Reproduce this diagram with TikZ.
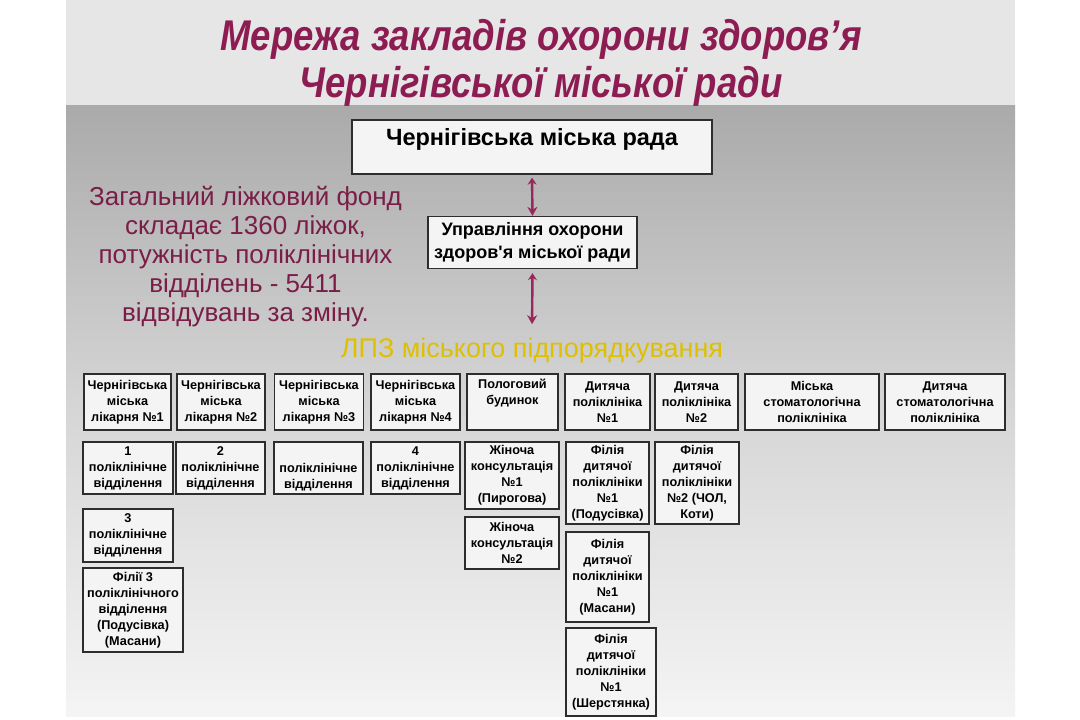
\documentclass[tikz,border=0pt]{standalone}
\usepackage{fontspec}
\setmainfont{Liberation Sans}
\newfontfamily\titlefont[FakeStretch=0.85]{Liberation Sans}
\usetikzlibrary{arrows.meta}
\definecolor{plum}{RGB}{140,28,82}
\definecolor{textplum}{RGB}{122,30,72}
\definecolor{linkcol}{RGB}{152,40,92}
\definecolor{lpzgold}{RGB}{222,192,0}
\definecolor{bandgray}{RGB}{230,230,230}
\definecolor{bgtop}{RGB}{170,170,170}
\definecolor{bgmid}{RGB}{214,214,214}
\definecolor{bgbot}{RGB}{244,244,244}
\definecolor{boxfill}{RGB}{244,244,244}
\definecolor{boxline}{RGB}{45,45,45}

\begin{document}
\begin{tikzpicture}[x=1pt,y=-1pt]

    \tikzset{
      unit/.style={
        draw=boxline,
        fill=boxfill,
        line width=1.7pt,
        inner sep=0pt,
        align=center,
        font=\fontsize{12.7}{16}\selectfont\bfseries,
      },
      link/.style={
        linkcol,
        line width=2.4pt,
        {Stealth[length=7pt,width=9pt]}-{Stealth[length=9pt,width=10pt]},
      },
    }
    \useasboundingbox (0,0) rectangle (1080,720);
    % slide
    \fill[white] (0,0) rectangle (1080,720);
    \shade[top color=bgtop, bottom color=bgbot, middle color=bgmid] (66,105) rectangle (1015,716);
    \fill[bandgray] (66,0) rectangle (1015,105);
    \node[plum, align=center, font=\titlefont\bfseries\itshape\fontsize{43}{47}\selectfont] (title) at (541,62.5) {Мережа закладів охорони здоров’я\\Чернігівської міської ради};
    \node[textplum, align=center, font=\fontsize{26}{29}\selectfont] (fond) at (245.5,257) {Загальний ліжковий фонд\\складає 1360 ліжок,\\потужність поліклінічних\\відділень - 5411\\відвідувань за зміну.};

    % top of the tree
    \node[unit, line width=1.3pt, minimum width=360, minimum height=54, text height=16pt, text depth=19pt, font=\fontsize{23.5}{26}\selectfont\bfseries] (rada) at (532,147) {Чернігівська міська рада};
    \node[unit, line width=1.3pt, minimum width=209, minimum height=52, font=\fontsize{18}{23}\selectfont\bfseries] (upr) at (532.5,242.5) {Управління охорони\\здоров\textquotesingle я міської ради};
    \node[lpzgold, inner sep=2pt, font=\fontsize{27}{30}\selectfont] (lpz) at (532,351) {ЛПЗ міського підпорядкування};
    \draw[link, shorten <=3pt] (rada.south) -- (upr.north);
    \draw[link, shorten <=4pt, shorten >=12pt] (upr.south) -- (lpz.north);

    % row 1
    \node[unit, minimum width=87, minimum height=56] (l1) at (127.5,402) {Чернігівська\\міська\\лікарня №1};
    \node[unit, minimum width=88, minimum height=56] (l2) at (221,402) {Чернігівська\\міська\\лікарня №2};
    \node[unit, minimum width=89, minimum height=56] (l3) at (319,402) {Чернігівська\\міська\\лікарня №3};
    \node[unit, minimum width=89, minimum height=56] (l4) at (415.5,402) {Чернігівська\\міська\\лікарня №4};
    \node[unit, minimum width=91, minimum height=56] (pb) at (512.5,402) {Пологовий\\будинок\\\strut};
    \node[unit, minimum width=85, minimum height=56] (dp1) at (607.5,402) {Дитяча\\поліклініка\\№1};
    \node[unit, minimum width=83, minimum height=56] (dp2) at (696.5,402) {Дитяча\\поліклініка\\№2};
    \node[unit, minimum width=134, minimum height=56] (msp) at (812,402) {Міська\\стоматологічна\\поліклініка};
    \node[unit, minimum width=120, minimum height=56] (dsp) at (945,402) {Дитяча\\стоматологічна\\поліклініка};

    % row 2
    \node[unit, minimum width=90, minimum height=52] (v1) at (128,468) {1\\поліклінічне\\відділення};
    \node[unit, minimum width=89, minimum height=52] (v2) at (220.5,468) {2\\поліклінічне\\відділення};
    \node[unit, minimum width=89, minimum height=52] (v3) at (318.5,468) {\strut\\поліклінічне\\відділення};
    \node[unit, minimum width=89, minimum height=52] (v4) at (415.5,468) {4\\поліклінічне\\відділення};
    \node[unit, minimum width=94, minimum height=67] (zk1) at (512,475.5) {Жіноча\\консультація\\№1\\(Пирогова)};
    \node[unit, minimum width=83, minimum height=82] (fd1) at (607.5,483) {Філія\\дитячої\\поліклініки\\№1\\(Подусівка)};
    \node[unit, minimum width=84, minimum height=82] (fd2) at (697,483) {Філія\\дитячої\\поліклініки\\№2 (ЧОЛ,\\Коти)};

    % below
    \node[unit, minimum width=90, minimum height=53] (v3b) at (128,535.5) {3\\поліклінічне\\відділення};
    \node[unit, minimum width=100, minimum height=84] (fv3) at (133,610) {Філії 3\\поліклінічного\\відділення\\(Подусівка)\\(Масани)};
    \node[unit, minimum width=94, minimum height=52] (zk2) at (512,543) {Жіноча\\консультація\\№2};
    \node[unit, minimum width=83, minimum height=90] (fd3) at (607.5,577) {Філія\\дитячої\\поліклініки\\№1\\(Масани)};
    \node[unit, minimum width=90, minimum height=88] (fd4) at (611,672) {Філія\\дитячої\\поліклініки\\№1\\(Шерстянка)};

\end{tikzpicture}
\end{document}
